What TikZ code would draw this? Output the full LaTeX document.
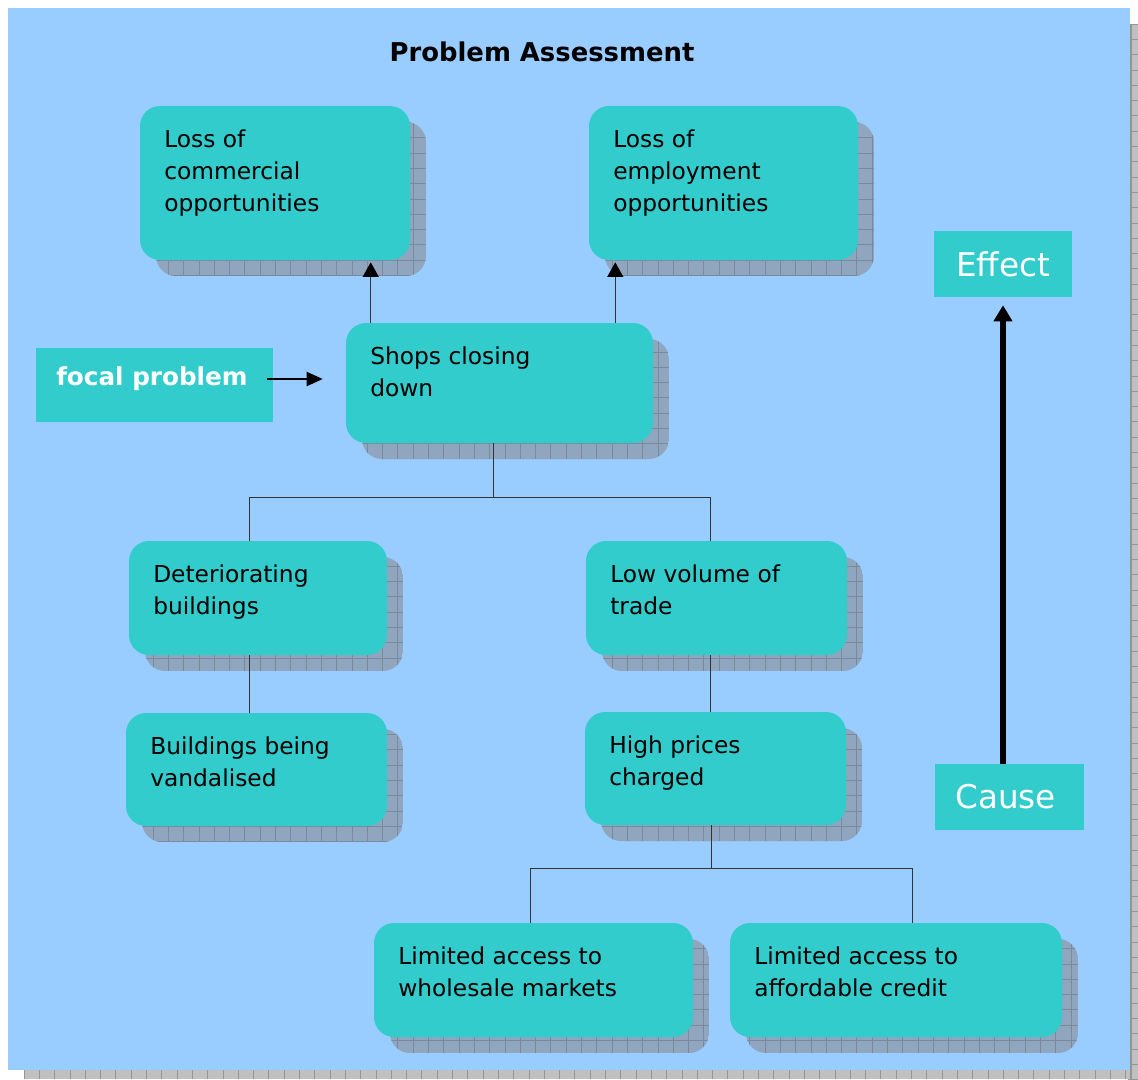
\documentclass[tikz,border=0pt]{standalone}
\usepackage{fontspec}
\setmainfont{DejaVu Sans}
\usetikzlibrary{arrows.meta,calc}
\definecolor{bgblue}{HTML}{99CCFF}
\definecolor{boxteal}{HTML}{33CCCC}
\definecolor{shadowcol}{HTML}{8FA6BE}
\definecolor{gridcol}{HTML}{7A8A9C}
\definecolor{pageshadow}{HTML}{C0C0C0}
\definecolor{pagegrid}{HTML}{959595}
\tikzset{
  pbox/.style={fill=boxteal, rounded corners=15pt, inner sep=0pt, draw=none},
  ptext/.style={anchor=base west, inner sep=0pt, align=left, font=\fontsize{17.5pt}{24pt}\selectfont},
  gridln/.style={draw=gridcol, line width=0.6pt},
  conn/.style={draw=black!80, line width=0.75pt},
  uparr/.style={conn, -{Triangle[length=11pt,width=12pt,fill=black,color=black]}},
  focarr/.style={draw=black, line width=1.5pt, -{Triangle[length=12pt,width=10.5pt]}},
  bigarr/.style={draw=black, line width=4.5pt, -{Triangle[length=12pt,width=13.5pt]}},
  labbox/.style={fill=boxteal, inner sep=0pt, text=white}
}
% name, x1, y1, x2, y2, text, number of extra lines
\newcommand\pbx[7]{%
  \begin{scope}
    \clip[rounded corners=15pt] (#2+16,#3+16) rectangle (#4+16,#5+16);
    \fill[shadowcol] (#2,#3) rectangle (#4+16,#5+16);
    \foreach \k in {0,...,75} {
      \draw[gridln] (\k*15.3,#3) -- (\k*15.3,#5+16);
      \draw[gridln] (#2,\k*15.3) -- (#4+16,\k*15.3);
    }
  \end{scope}
  \node[pbox, minimum width={(#4-#2)*0.75pt}, minimum height={(#5-#3)*0.75pt}] (#1) at ({(#2+#4)/2},{(#3+#5)/2}) {};
  \node[ptext] (#1t) at (#2+24,#3+41+32*#7) {#6};
}
\begin{document}
\begin{tikzpicture}[x=0.75pt,y=-0.75pt]
\useasboundingbox (0,0) rectangle (1138,1079);
% page shadow
\fill[pageshadow] (24,24) rectangle (1138,1079);
\foreach \k in {0,...,75} {
  \draw[pagegrid, line width=0.6pt] (24+\k*15.3,1068) -- (24+\k*15.3,1079);
  \draw[pagegrid, line width=0.6pt] (1128,24+\k*15.3) -- (1138,24+\k*15.3);
}
\draw[pagegrid, line width=0.9pt] (1131,24) -- (1131,1079);
\fill[bgblue] (8,8) rectangle (1130,1070);

\node[font=\bfseries\fontsize{19.4pt}{23pt}\selectfont] (title) at (542,52) {Problem Assessment};

\pbx{commercial}{140}{106}{410}{260}{Loss of\\commercial\\opportunities}{2}
\pbx{employment}{589}{106}{858}{260}{Loss of\\employment\\opportunities}{2}
\pbx{shops}{346}{323}{653}{443}{Shops closing\\down}{1}
\pbx{deter}{129}{541}{387}{655}{Deteriorating\\buildings}{1}
\pbx{lowvol}{586}{541}{847}{655}{Low volume of\\trade}{1}
\pbx{vandal}{126}{713}{387}{826}{Buildings being\\vandalised}{1}
\pbx{high}{585}{712}{846}{825}{High prices\\charged}{1}
\pbx{wholesale}{374}{923}{693}{1037}{Limited access to\\wholesale markets}{1}
\pbx{credit}{730}{923}{1062}{1037}{Limited access to\\affordable credit}{1}

% side labels
\node[labbox, minimum width=177.75pt, minimum height=55.5pt] (focal) at (154.5,385) {};
\node[anchor=base west, inner sep=0pt, text=white, font=\bfseries\fontsize{18.5pt}{22pt}\selectfont] (focalt) at (56,385) {focal problem};
\node[labbox, minimum width=103.5pt, minimum height=49.5pt, font=\fontsize{24.5pt}{28pt}\selectfont] (effect) at (1003,264) {Effect};
\node[labbox, minimum width=111.75pt, minimum height=49.5pt] (cause) at (1009.5,797) {};
\node[anchor=west, inner sep=0pt, text=white, font=\fontsize{24.5pt}{28pt}\selectfont] (causet) at (955,797) {Cause};

% connectors
\coordinate (s1) at ($(shops.north west)+(25,0)$);
\coordinate (s2) at ($(shops.north east)+(-38,0)$);
\draw[uparr] (s1) -- ($(s1 |- commercial.south)+(0,2)$);
\draw[uparr] (s2) -- ($(s2 |- employment.south)+(0,2)$);

\coordinate (t0) at ($(shops.south)+(-6,0)$);
\coordinate (j1) at ($(t0)+(0,54)$);
\coordinate (d1) at ($(deter.north)+(-9,0)$);
\coordinate (l1) at ($(lowvol.north)+(-6,0)$);
\draw[conn] (t0) -- (j1);
\draw[conn] (d1) |- (j1) -| (l1);
\coordinate (d2) at ($(deter.south)+(-9,0)$);
\draw[conn] (d2) -- (d2 |- vandal.north);
\coordinate (l2) at ($(lowvol.south)+(-6,0)$);
\draw[conn] (l2) -- (l2 |- high.north);
\coordinate (h0) at ($(high.south)+(-4.5,0)$);
\coordinate (j2) at ($(h0)+(0,43)$);
\coordinate (w1) at ($(wholesale.north)+(-3.5,0)$);
\coordinate (c1) at ($(credit.north)+(16,0)$);
\draw[conn] (h0) -- (j2);
\draw[conn] (w1) |- (j2) -| (c1);

\coordinate (fa) at ($(focal.east)+(-6,-6)$);
\coordinate (fb) at ($(shops.west)+(-23,0)$);
\draw[focarr] (fa) -- (fa -| fb);

\coordinate (ca) at (effect.south |- cause.north);
\draw[bigarr] (ca) -- ($(effect.south)+(0,8)$);
\end{tikzpicture}
\end{document}
